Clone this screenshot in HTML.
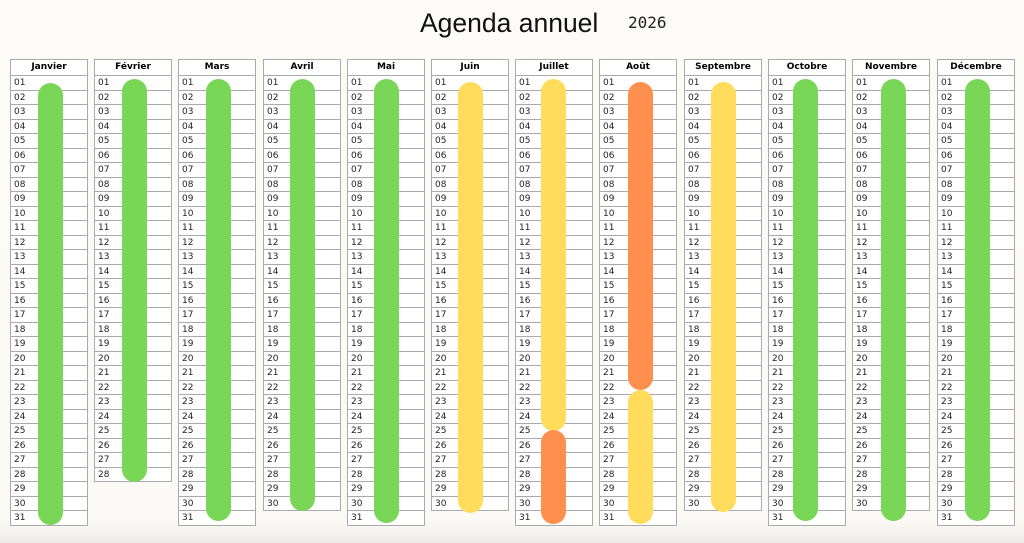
<!DOCTYPE html><html><head><meta charset="utf-8"><style>
body{margin:0;width:1024px;height:543px;background:linear-gradient(#fcfbf8 0,#fbfaf6 520px,#eeece8 543px);font-family:"DejaVu Sans","Liberation Sans",sans-serif;position:relative;overflow:hidden}
.t{position:absolute;left:420px;top:8px;font-size:26.5px;color:#111;font-family:"Liberation Sans",sans-serif}
.y{position:absolute;left:628px;top:13px;font-size:16px;color:#222;font-family:"DejaVu Sans Mono",monospace}
.c{position:absolute;top:59px;width:76px;border:1px solid #aaa;border-bottom:none;background:#fff}
.c b{display:block;height:15px;line-height:15px;text-align:center;font-size:9px;border-bottom:1px solid #aaa}
.c i{display:block;font-style:normal;height:13.5px;line-height:14px;font-size:9px;padding-left:3px;border-bottom:1px solid #aaa;color:#222}
.bar{position:absolute;width:25px;border-radius:12.5px}
.g{background:#7ad657}.ye{background:#ffdc5c}.o{background:#ff8f4e}
</style></head><body>
<div class="t">Agenda annuel</div><div class="y">2026</div>
<div class="c" style="left:10px"><b>Janvier</b><i>01</i><i>02</i><i>03</i><i>04</i><i>05</i><i>06</i><i>07</i><i>08</i><i>09</i><i>10</i><i>11</i><i>12</i><i>13</i><i>14</i><i>15</i><i>16</i><i>17</i><i>18</i><i>19</i><i>20</i><i>21</i><i>22</i><i>23</i><i>24</i><i>25</i><i>26</i><i>27</i><i>28</i><i>29</i><i>30</i><i>31</i></div>
<div class="c" style="left:94px"><b>Février</b><i>01</i><i>02</i><i>03</i><i>04</i><i>05</i><i>06</i><i>07</i><i>08</i><i>09</i><i>10</i><i>11</i><i>12</i><i>13</i><i>14</i><i>15</i><i>16</i><i>17</i><i>18</i><i>19</i><i>20</i><i>21</i><i>22</i><i>23</i><i>24</i><i>25</i><i>26</i><i>27</i><i>28</i></div>
<div class="c" style="left:178px"><b>Mars</b><i>01</i><i>02</i><i>03</i><i>04</i><i>05</i><i>06</i><i>07</i><i>08</i><i>09</i><i>10</i><i>11</i><i>12</i><i>13</i><i>14</i><i>15</i><i>16</i><i>17</i><i>18</i><i>19</i><i>20</i><i>21</i><i>22</i><i>23</i><i>24</i><i>25</i><i>26</i><i>27</i><i>28</i><i>29</i><i>30</i><i>31</i></div>
<div class="c" style="left:263px"><b>Avril</b><i>01</i><i>02</i><i>03</i><i>04</i><i>05</i><i>06</i><i>07</i><i>08</i><i>09</i><i>10</i><i>11</i><i>12</i><i>13</i><i>14</i><i>15</i><i>16</i><i>17</i><i>18</i><i>19</i><i>20</i><i>21</i><i>22</i><i>23</i><i>24</i><i>25</i><i>26</i><i>27</i><i>28</i><i>29</i><i>30</i></div>
<div class="c" style="left:347px"><b>Mai</b><i>01</i><i>02</i><i>03</i><i>04</i><i>05</i><i>06</i><i>07</i><i>08</i><i>09</i><i>10</i><i>11</i><i>12</i><i>13</i><i>14</i><i>15</i><i>16</i><i>17</i><i>18</i><i>19</i><i>20</i><i>21</i><i>22</i><i>23</i><i>24</i><i>25</i><i>26</i><i>27</i><i>28</i><i>29</i><i>30</i><i>31</i></div>
<div class="c" style="left:431px"><b>Juin</b><i>01</i><i>02</i><i>03</i><i>04</i><i>05</i><i>06</i><i>07</i><i>08</i><i>09</i><i>10</i><i>11</i><i>12</i><i>13</i><i>14</i><i>15</i><i>16</i><i>17</i><i>18</i><i>19</i><i>20</i><i>21</i><i>22</i><i>23</i><i>24</i><i>25</i><i>26</i><i>27</i><i>28</i><i>29</i><i>30</i></div>
<div class="c" style="left:515px"><b>Juillet</b><i>01</i><i>02</i><i>03</i><i>04</i><i>05</i><i>06</i><i>07</i><i>08</i><i>09</i><i>10</i><i>11</i><i>12</i><i>13</i><i>14</i><i>15</i><i>16</i><i>17</i><i>18</i><i>19</i><i>20</i><i>21</i><i>22</i><i>23</i><i>24</i><i>25</i><i>26</i><i>27</i><i>28</i><i>29</i><i>30</i><i>31</i></div>
<div class="c" style="left:599px"><b>Août</b><i>01</i><i>02</i><i>03</i><i>04</i><i>05</i><i>06</i><i>07</i><i>08</i><i>09</i><i>10</i><i>11</i><i>12</i><i>13</i><i>14</i><i>15</i><i>16</i><i>17</i><i>18</i><i>19</i><i>20</i><i>21</i><i>22</i><i>23</i><i>24</i><i>25</i><i>26</i><i>27</i><i>28</i><i>29</i><i>30</i><i>31</i></div>
<div class="c" style="left:684px"><b>Septembre</b><i>01</i><i>02</i><i>03</i><i>04</i><i>05</i><i>06</i><i>07</i><i>08</i><i>09</i><i>10</i><i>11</i><i>12</i><i>13</i><i>14</i><i>15</i><i>16</i><i>17</i><i>18</i><i>19</i><i>20</i><i>21</i><i>22</i><i>23</i><i>24</i><i>25</i><i>26</i><i>27</i><i>28</i><i>29</i><i>30</i></div>
<div class="c" style="left:768px"><b>Octobre</b><i>01</i><i>02</i><i>03</i><i>04</i><i>05</i><i>06</i><i>07</i><i>08</i><i>09</i><i>10</i><i>11</i><i>12</i><i>13</i><i>14</i><i>15</i><i>16</i><i>17</i><i>18</i><i>19</i><i>20</i><i>21</i><i>22</i><i>23</i><i>24</i><i>25</i><i>26</i><i>27</i><i>28</i><i>29</i><i>30</i><i>31</i></div>
<div class="c" style="left:852px"><b>Novembre</b><i>01</i><i>02</i><i>03</i><i>04</i><i>05</i><i>06</i><i>07</i><i>08</i><i>09</i><i>10</i><i>11</i><i>12</i><i>13</i><i>14</i><i>15</i><i>16</i><i>17</i><i>18</i><i>19</i><i>20</i><i>21</i><i>22</i><i>23</i><i>24</i><i>25</i><i>26</i><i>27</i><i>28</i><i>29</i><i>30</i></div>
<div class="c" style="left:937px"><b>Décembre</b><i>01</i><i>02</i><i>03</i><i>04</i><i>05</i><i>06</i><i>07</i><i>08</i><i>09</i><i>10</i><i>11</i><i>12</i><i>13</i><i>14</i><i>15</i><i>16</i><i>17</i><i>18</i><i>19</i><i>20</i><i>21</i><i>22</i><i>23</i><i>24</i><i>25</i><i>26</i><i>27</i><i>28</i><i>29</i><i>30</i><i>31</i></div>
<div class="bar g" style="left:38px;top:83px;height:442px"></div>
<div class="bar g" style="left:122px;top:79px;height:403px"></div>
<div class="bar g" style="left:206px;top:79px;height:442px"></div>
<div class="bar g" style="left:290px;top:79px;height:432px"></div>
<div class="bar g" style="left:374px;top:79px;height:444px"></div>
<div class="bar ye" style="left:458px;top:82px;height:431px"></div>
<div class="bar ye" style="left:541px;top:79px;height:352px"></div>
<div class="bar o" style="left:541px;top:430px;height:94px"></div>
<div class="bar o" style="left:628px;top:82px;height:308px"></div>
<div class="bar ye" style="left:628px;top:390px;height:134px"></div>
<div class="bar ye" style="left:711px;top:82px;height:430px"></div>
<div class="bar g" style="left:793px;top:79px;height:442px"></div>
<div class="bar g" style="left:881px;top:79px;height:442px"></div>
<div class="bar g" style="left:965px;top:79px;height:442px"></div>
</body></html>
